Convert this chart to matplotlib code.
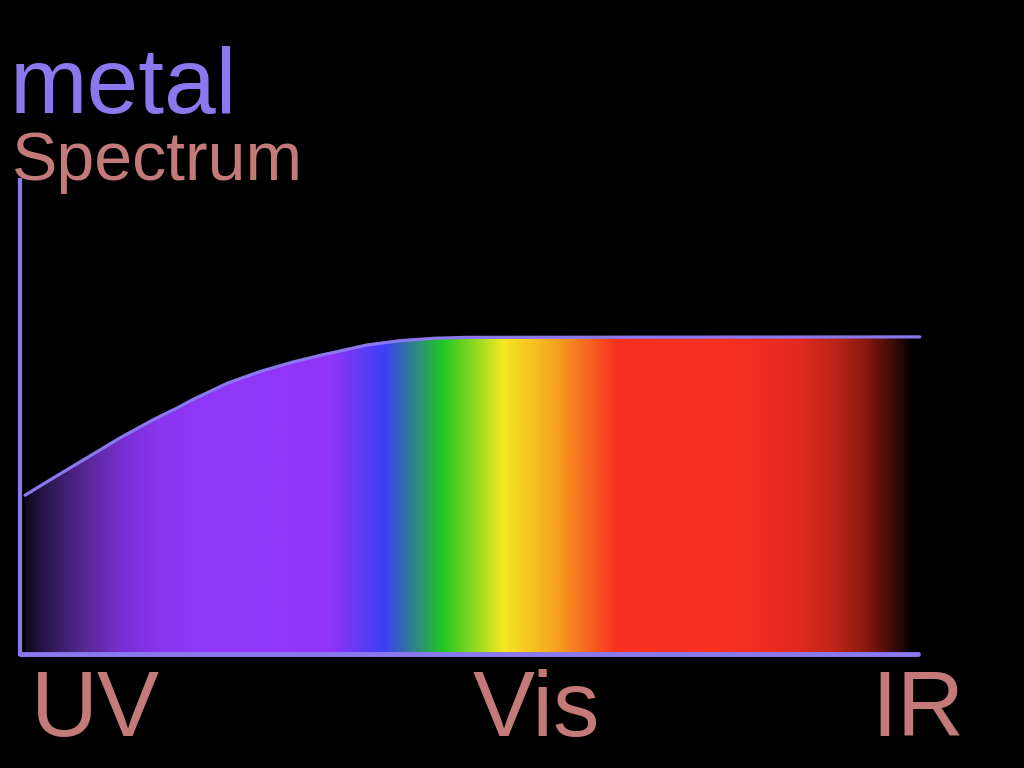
import matplotlib.pyplot as plt
import numpy as np
from matplotlib.colors import LinearSegmentedColormap
from matplotlib.patches import Polygon

plt.rcParams['font.family'] = ['Liberation Sans', 'DejaVu Sans']

# curve (arbitrary units, 0-100 each way)
curve_x = [0.56, 3.67, 7.46, 11.14, 14.81, 17.59, 19.27, 23.05, 26.73, 30.40,
           33.41, 34.86, 38.64, 42.32, 45.99, 49.78, 100.2]
curve_y = [33.5, 37.1, 41.4, 45.6, 49.4, 52.0, 53.7, 57.1, 59.6, 61.6,
           63.0, 63.6, 65.2, 66.1, 66.6, 66.8, 66.9]

# spectrum colours along the x axis
stop_pos = [0.0, 3.3, 7.5, 11.9, 15.6, 21.2, 34.5, 40.6, 47.1, 53.8, 59.8, 64.6, 66.5,
            79.4, 86.9, 90.5, 93.9, 96.1, 98.3, 99.4, 100]
stop_col = ['#080410', '#301858', '#5a2898', '#7a30d8', '#8a35f0', '#9038f8', '#9035f8',
            '#3c40f5', '#20c820', '#f5e820', '#f8a020', '#f85020', '#f83020',
            '#f83020', '#e02a20', '#c02418', '#901a10', '#5a100a', '#200806', '#000000', '#000000']

band_labels = ['UV', 'Vis', 'IR']
band_pos = [1.2, 50.4, 94.8]

purple = '#8a78ee'
pink = '#c47a78'

fig = plt.figure(figsize=(10.24, 7.68), dpi=100, facecolor='black')
ax = fig.add_axes([20/1024, (768-654)/768, 898/1024, 474/768])
ax.set_facecolor('black')
ax.set_xlim(0, 100)
ax.set_ylim(0, 100)

cmap = LinearSegmentedColormap.from_list('spec', list(zip(np.array(stop_pos)/100, stop_col)), N=2048)
grad = np.linspace(0, 1, 2048).reshape(1, -1)
img = ax.imshow(grad, cmap=cmap, aspect='auto', extent=[0, 100, 0, 100],
                interpolation='bilinear', zorder=1)

poly_pts = list(zip(curve_x, curve_y)) + [(curve_x[-1], 0), (curve_x[0], 0)]
clip = Polygon(poly_pts, closed=True, facecolor='none', edgecolor='none')
ax.add_patch(clip)
img.set_clip_path(clip)

ax.plot(curve_x, curve_y, color=purple, lw=2.3, solid_capstyle='round',
        solid_joinstyle='round', zorder=3, clip_on=False)

for s in ['top', 'right']:
    ax.spines[s].set_visible(False)
ax.spines['left'].set_color(purple)
ax.spines['left'].set_linewidth(3)
ax.spines['bottom'].set_color(purple)
ax.spines['bottom'].set_linewidth(3.5)
ax.spines['bottom'].set_capstyle('round')
ax.spines['left'].set_zorder(4)
ax.spines['bottom'].set_zorder(4)

ax.set_yticks([])
ax.set_xticks(band_pos)
ax.set_xticklabels(band_labels, fontsize=67, color=pink, ha='left')
ax.tick_params(axis='x', length=0, pad=11)

fig.text(10/1024, 1 - 113/768, 'metal', fontsize=67, color=purple, va='baseline', ha='left')
fig.text(12/1024, 1 - 180/768, 'Spectrum', fontsize=49, color=pink, va='baseline', ha='left')

fig.savefig('out.png', dpi=100, facecolor='black')
